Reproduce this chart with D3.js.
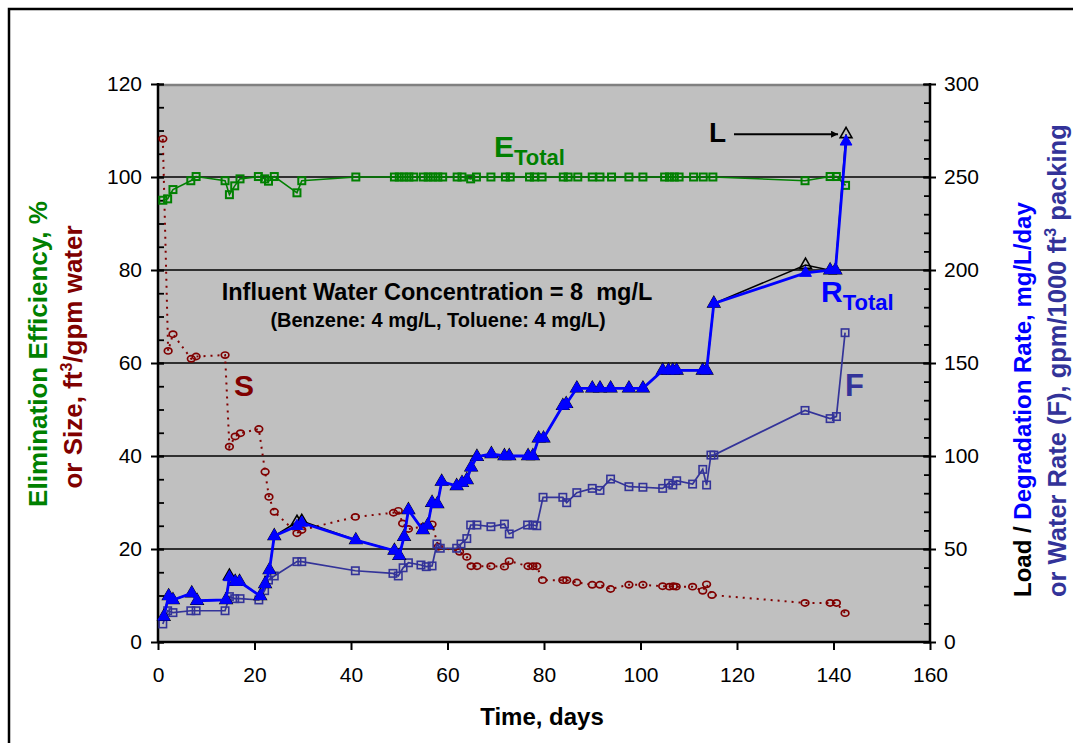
<!DOCTYPE html>
<html><head><meta charset="utf-8">
<script src="https://cdn.jsdelivr.net/npm/d3@7"></script>
<style>
body{margin:0;background:#fff;}
svg{display:block;font-family:Arial,"Liberation Sans",sans-serif;}
</style></head>
<body>
<svg id="c" width="1073" height="743"></svg>
<script>
// ---------- DATA ----------
const xTicks = [0,20,40,60,80,100,120,140,160];
const yLeftTicks = [0,20,40,60,80,100,120];
const yRightTicks = [0,50,100,150,200,250,300];

// Elimination efficiency E_Total (%), left axis
const eDays = [1,2,3.1,6.8,7.9,13.9,14.8,15.9,17,20.8,22.1,22.9,24.1,28.8,29.8,41,
  49,50,51,52,53,55,56,57,58,59,62,63,64.8,66,69,72,73,77,78,79.6,84,85,87,90,91.6,94,97.6,100.5,105,106,107,108,111,113,115,
  134.1,139.3,140.6,142.5];
const eVals = [95,95.3,97.3,99.2,100.1,99.2,96.2,98.1,99.6,100.1,99.6,99.1,100.1,96.6,99.2,100,
  100,100,100,100,100,100,100,100,100,100,100,100,99.6,100,100,100,100,100,100,100,100,100,100,100,100,100,100,100,100,100,100,100,100,100,100,
  99.2,100.1,100.1,98.2];

// Size S (ft3/gpm water), left axis
const sDays = [1,2.1,3.1,6.9,7.9,13.9,14.8,16,17.1,20.9,22.2,23,24.1,28.8,29.8,40.9,48.8,49.8,50.7,51.9,55,56.8,58.1,62.5,64,64.9,66.1,69,71.8,72.8,76.7,77.7,78.5,79.7,83.9,84.7,86.8,90,91.6,93.8,97.6,100.5,104.6,106,106.8,107.4,110.8,112.9,113.7,114.8,134.1,139.3,140.6,142.4];
const sVals = [108.2,62.6,66.2,60.9,61.4,61.7,42,44.2,44.9,45.8,36.6,31.2,28,23.4,24.1,26.9,27.8,28.2,25.5,24.3,24.8,25.3,20.5,19.4,18.3,16.3,16.3,16.3,16.2,17.4,16.3,16.3,16.3,13.3,13.3,13.3,12.8,12.3,12.3,11.4,12.3,12.3,12.0,11.9,12.0,11.9,11.9,11.0,12.4,10.1,8.4,8.4,8.4,6.2];

// Degradation rate R_Total (mg/L/day), right axis
const rDays = [1.2,2.2,3.1,7,8.1,14.1,14.8,16,16.9,21.2,22.2,23.1,24.1,28.8,29.8,41,49,50,51,51.9,54.9,55.9,56.8,57.9,58.8,61.9,63,64,64.9,66.1,69.1,71.8,72.8,76.7,77.7,78.9,79.9,83.9,84.6,86.8,90,91.6,93.8,97.6,100.5,104.6,105.8,106.7,107.5,112.9,113.7,115.2,134.2,139.3,140.4,142.6];
const rVals = [13.6,24.7,22.6,26.2,22.2,22.6,34.8,32.4,32.4,24.7,31.2,38.7,57,62.3,64.1,54.8,49.1,46.4,56.6,71,60.2,62.7,74.9,74.2,86.2,83.9,85.6,87.1,93.9,99.6,101.1,100,100,100,100,109.5,109.5,127,128,136.4,136.4,136.4,136.4,136.4,136.4,146,146,146,146,146,146,182,198.4,199.9,199.9,269];

// Load (mg/L/day), right axis (same sampling days as R)
const loadVals = [13.6,24.7,22.6,26.2,22.2,22.6,35.5,32.4,32.4,24.7,31.2,38.7,57,64.5,65,54.8,49.1,46.4,56.6,71,60.2,62.7,74.9,74.2,86.2,83.9,85.6,87.1,93.9,99.6,101.1,100,100,100,100,109.5,109.5,127,128,136.4,136.4,136.4,136.4,136.4,136.4,146,146,146,146,146,146,182,202.7,199.9,199.9,273];

// Water rate F (gpm/1000 ft3 packing), right axis
const fDays = [1,2,3.1,6.8,7.9,13.9,14.8,15.9,17,20.9,22.1,22.9,24.1,28.8,29.8,40.9,48.7,49.8,50.8,51.9,54.5,55.6,56.8,57.8,58.5,61.9,62.8,64,64.8,66.1,69,71.8,72.8,76.6,77.7,78.5,79.8,83.9,84.7,86.8,90,91.6,93.8,97.6,100.5,104.6,105.8,106.7,107.5,110.8,112.9,113.7,114.6,115.2,134.1,139.3,140.6,142.4];
const fVals = [9.7,16.8,15.8,16.8,16.8,16.8,24.4,23.3,23.3,22.6,27.6,33.3,35.5,43.2,43.2,38.3,36.9,35.5,39.9,42.6,41.4,40.5,40.9,52.7,50.4,50.4,52.7,55.6,62.9,62.9,62,63.4,58.1,62.9,62.9,62.5,77.8,77.8,74.9,80.3,82.6,81.5,87.6,83.5,83.2,82.6,85.3,84.4,86.7,84.9,92.8,84.4,100.5,100.5,124.5,120.1,121.2,166.3];

// ---------- COLORS ----------
const cE = "#008000", cS = "#800000", cR = "#0000FF", cF = "#333399", cL = "#000000";

// ---------- SETUP ----------
const svg = d3.select("#c");
const X0 = 158, X1 = 930, Y0 = 642, Y1 = 84;
const x = d3.scaleLinear().domain([0,160]).range([X0,X1]);
const yL = d3.scaleLinear().domain([0,120]).range([Y0,Y1]);
const yR = d3.scaleLinear().domain([0,300]).range([Y0,Y1]);

// outer frame
svg.append("rect").attr("x",9).attr("y",9).attr("width",1100).attr("height",800)
  .attr("fill","none").attr("stroke","#000").attr("stroke-width",2.5);

// plot area
svg.append("rect").attr("x",X0).attr("y",Y1).attr("width",X1-X0).attr("height",Y0-Y1).attr("fill","#c0c0c0");
svg.append("line").attr("x1",X0).attr("x2",X1).attr("y1",Y1+1).attr("y2",Y1+1).attr("stroke","#808080").attr("stroke-width",2.5);

// gridlines
svg.append("g").selectAll("line").data(yLeftTicks.filter(v=>v>0&&v<120)).join("line")
  .attr("x1",X0).attr("x2",X1).attr("y1",d=>yL(d)).attr("y2",d=>yL(d))
  .attr("stroke","#000").attr("stroke-width",1.3);

// ---------- AXES ----------
const tickFont = g => g.selectAll("text").attr("font-size",21).attr("font-family","Arial, 'Liberation Sans', sans-serif").attr("fill","#000");

// left minor
svg.append("g").attr("transform",`translate(${X0},0)`)
  .call(d3.axisLeft(yL).tickValues(d3.range(0,121,5)).tickSize(-6).tickFormat(""))
  .call(g=>g.select(".domain").remove())
  .call(g=>g.selectAll("line").attr("stroke-width",1.8));
// left major
svg.append("g").attr("transform",`translate(${X0},0)`)
  .call(d3.axisLeft(yL).tickValues(yLeftTicks).tickSize(7).tickPadding(9))
  .call(g=>g.select(".domain").remove())
  .call(g=>g.selectAll(".tick line").attr("x1",6).attr("stroke-width",2))
  .call(tickFont);
// right minor
svg.append("g").attr("transform",`translate(${X1},0)`)
  .call(d3.axisRight(yR).tickValues(d3.range(0,301,10)).tickSize(-6).tickFormat(""))
  .call(g=>g.select(".domain").remove())
  .call(g=>g.selectAll("line").attr("stroke-width",1.8));
// right major
svg.append("g").attr("transform",`translate(${X1},0)`)
  .call(d3.axisRight(yR).tickValues(yRightTicks).tickSize(6).tickPadding(8))
  .call(g=>g.select(".domain").remove())
  .call(g=>g.selectAll(".tick line").attr("x1",-7).attr("stroke-width",2))
  .call(tickFont);
// bottom
svg.append("g").attr("transform",`translate(0,${Y0})`)
  .call(d3.axisBottom(x).tickValues(xTicks).tickSize(8).tickPadding(17))
  .call(g=>g.select(".domain").remove())
  .call(g=>g.selectAll(".tick line").attr("stroke-width",2))
  .call(tickFont);

// axis lines
svg.append("line").attr("x1",X0).attr("x2",X0).attr("y1",Y1-1).attr("y2",Y0+1).attr("stroke","#000").attr("stroke-width",2.5);
svg.append("line").attr("x1",X1).attr("x2",X1).attr("y1",Y1-1).attr("y2",Y0+1).attr("stroke","#000").attr("stroke-width",2.5);
svg.append("line").attr("x1",X0).attr("x2",X1).attr("y1",Y0).attr("y2",Y0).attr("stroke","#000").attr("stroke-width",2.5);

// ---------- SERIES ----------
const zip = (a,b)=>a.map((d,i)=>[d,b[i]]);
const eData = zip(eDays,eVals), sData = zip(sDays,sVals), rData = zip(rDays,rVals),
      lData = zip(rDays,loadVals), fData = zip(fDays,fVals);
const lineL = d3.line().x(d=>x(d[0])).y(d=>yL(d[1]));
const lineR = d3.line().x(d=>x(d[0])).y(d=>yR(d[1]));

const plot = svg.append("g");
// S
plot.append("path").datum(sData).attr("d",lineL).attr("fill","none").attr("stroke",cS)
  .attr("stroke-width",2).attr("stroke-dasharray","2,5");
plot.append("g").selectAll("ellipse").data(sData).join("ellipse")
  .attr("cx",d=>x(d[0])).attr("cy",d=>yL(d[1])).attr("rx",3.8).attr("ry",3.1)
  .attr("fill","none").attr("stroke",cS).attr("stroke-width",1.7);
// E
plot.append("path").datum(eData).attr("d",lineL).attr("fill","none").attr("stroke",cE).attr("stroke-width",1.6);
plot.append("g").selectAll("rect").data(eData).join("rect")
  .attr("x",d=>x(d[0])-3.5).attr("y",d=>yL(d[1])-3.5).attr("width",7).attr("height",7)
  .attr("fill","none").attr("stroke",cE).attr("stroke-width",2);
// F
plot.append("path").datum(fData).attr("d",lineR).attr("fill","none").attr("stroke",cF).attr("stroke-width",1.7);
plot.append("g").selectAll("rect").data(fData).join("rect")
  .attr("x",d=>x(d[0])-3.7).attr("y",d=>yR(d[1])-3.7).attr("width",7.4).attr("height",7.4)
  .attr("fill","none").attr("stroke",cF).attr("stroke-width",1.6);
// Load
const tri = d3.symbol().type(d3.symbolTriangle).size(60);
plot.append("path").datum(lData).attr("d",lineR).attr("fill","none").attr("stroke",cL).attr("stroke-width",1.6);
plot.append("g").selectAll("path").data(lData).join("path")
  .attr("transform",d=>`translate(${x(d[0])},${yR(d[1])})`).attr("d",tri)
  .attr("fill","none").attr("stroke",cL).attr("stroke-width",1.6);
// R
plot.append("path").datum(rData).attr("d",lineR).attr("fill","none").attr("stroke",cR).attr("stroke-width",2.8);
plot.append("g").selectAll("path").data(rData).join("path")
  .attr("transform",d=>`translate(${x(d[0])},${yR(d[1])})`).attr("d",tri)
  .attr("fill",cR).attr("stroke",cR).attr("stroke-width",1);

// ---------- TEXT ----------
const bold = (sel)=>sel.attr("font-weight","bold").attr("font-family","Arial, 'Liberation Sans', sans-serif");

// x title
svg.append("text").attr("x",542).attr("y",725).attr("text-anchor","middle").attr("font-size",24).call(bold).text("Time, days");

// left title
const lt = svg.append("g").attr("transform","rotate(-90)");
lt.append("text").attr("x",-354).attr("y",47).attr("text-anchor","middle").attr("font-size",26).attr("fill",cE).call(bold)
  .text("Elimination Efficiency, %");
const lt2 = lt.append("text").attr("x",-357).attr("y",82).attr("text-anchor","middle").attr("font-size",26).attr("fill",cS).call(bold);
lt2.append("tspan").text("or Size, ft");
lt2.append("tspan").attr("font-size",16).attr("dy",-10).text("3");
lt2.append("tspan").attr("dy",10).text("/gpm water");

// right title
const rt = svg.append("g").attr("transform","rotate(-90)");
const r1 = rt.append("text").attr("x",-597).attr("y",1031).attr("text-anchor","start").attr("font-size",24).call(bold);
r1.append("tspan").attr("fill","#000").text("Load / ");
r1.append("tspan").attr("fill",cR).text("Degradation Rate, mg/L/day");
const r2 = rt.append("text").attr("x",-597).attr("y",1066).attr("text-anchor","start").attr("font-size",25.5).attr("fill",cF).call(bold);
r2.append("tspan").text("or Water Rate (F), gpm/1000 ft");
r2.append("tspan").attr("font-size",16).attr("dy",-10).text("3");
r2.append("tspan").attr("dy",10).text(" packing");

// annotations
svg.append("text").attr("x",437).attr("y",300).attr("text-anchor","middle").attr("font-size",23.5).call(bold)
  .attr("xml:space","preserve").style("white-space","pre").text("Influent Water Concentration = 8  mg/L");
svg.append("text").attr("x",438).attr("y",327).attr("text-anchor","middle").attr("font-size",20).call(bold)
  .text("(Benzene: 4 mg/L, Toluene: 4 mg/L)");

const eLab = svg.append("text").attr("x",494).attr("y",157).attr("fill",cE).attr("font-size",30).call(bold);
eLab.append("tspan").text("E");
eLab.append("tspan").attr("font-size",22).attr("dy",8).text("Total");

const rLab = svg.append("text").attr("x",821).attr("y",302).attr("fill",cR).attr("font-size",30).call(bold);
rLab.append("tspan").text("R");
rLab.append("tspan").attr("font-size",22).attr("dy",8).text("Total");

svg.append("text").attr("x",845).attr("y",396).attr("fill",cF).attr("font-size",31).call(bold).text("F");
svg.append("text").attr("x",234).attr("y",396).attr("fill",cS).attr("font-size",30).call(bold).text("S");
svg.append("text").attr("x",709).attr("y",142).attr("fill","#000").attr("font-size",28).call(bold).text("L");

// arrow to L point
const defs = svg.append("defs");
defs.append("marker").attr("id","ah").attr("viewBox","0 0 10 10").attr("refX",10).attr("refY",5)
  .attr("markerWidth",7).attr("markerHeight",7).attr("orient","auto").attr("markerUnits","userSpaceOnUse")
  .append("path").attr("d","M0,0 L10,5 L0,10 z").attr("fill","#000");
const lastDay = rDays[rDays.length-1], lastLoad = loadVals[loadVals.length-1];
svg.append("line").attr("x1",734).attr("x2",x(lastDay)-8)
  .attr("y1",yR(lastLoad)).attr("y2",yR(lastLoad))
  .attr("stroke","#000").attr("stroke-width",2).attr("marker-end","url(#ah)");
</script>
</body></html>
